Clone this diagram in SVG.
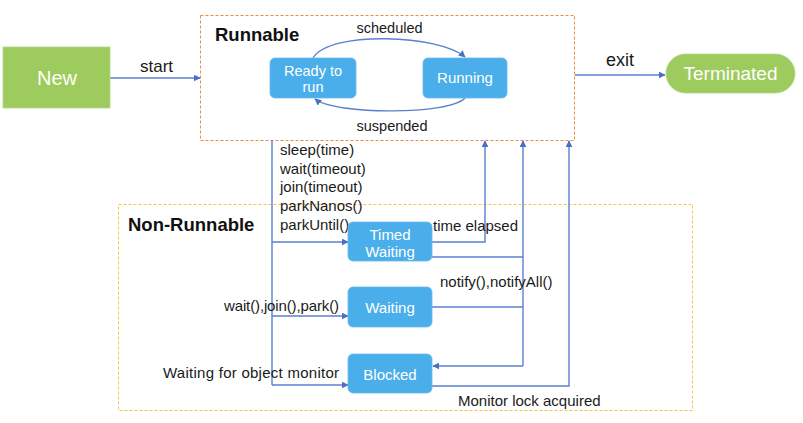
<svg xmlns="http://www.w3.org/2000/svg" width="803" height="423" viewBox="0 0 803 423">
<defs>
<style>
text{font-family:"Liberation Sans",Arial,sans-serif;fill:#1a1a1a;font-size:15px}
.w{fill:#ffffff}
.b{font-weight:bold;font-size:18.5px;fill:#111}
.st{fill:#4aaeea;stroke:#6ab9ee;stroke-width:0.8}
.ln{fill:none;stroke:#5b7fcf;stroke-width:1.4}
.grp{fill:none;stroke-width:1;stroke-dasharray:3,2}
</style>
<marker id="ah" viewBox="0 0 10 10" refX="9" refY="5" markerWidth="7" markerHeight="7" markerUnits="userSpaceOnUse" orient="auto">
<path d="M0,0 L10,5 L0,10 z" fill="#4a6fc4"/>
</marker>
</defs>
<rect width="803" height="423" fill="#ffffff"/>
<g id="runnable-group">
<rect class="grp" x="200.5" y="15.5" width="374" height="125" stroke="#f08b3c"/>
<text class="b" x="215" y="41">Runnable</text>
</g>
<g id="nonrunnable-group">
<rect class="grp" x="118.5" y="204.5" width="574" height="206" stroke="#f6c445"/>
<text class="b" x="128" y="231">Non-Runnable</text>
</g>
<g id="connectors">
<path class="ln" d="M110,78 L200,78" marker-end="url(#ah)"/>
<text x="140" y="72" style="font-size:17px">start</text>
<path class="ln" d="M575,75 L665,75" marker-end="url(#ah)"/>
<text x="606" y="66" style="font-size:18px">exit</text>
<path class="ln" d="M313,58 C330,30 440,35 465,57" marker-end="url(#ah)"/>
<text x="389.5" y="33" text-anchor="middle" style="font-size:14.5px">scheduled</text>
<path class="ln" d="M465,98 C450,115 335,115 315,99" marker-end="url(#ah)"/>
<text x="392" y="131" text-anchor="middle" style="font-size:14.5px">suspended</text>
<path class="ln" d="M272,140 L272,385"/>
<path class="ln" d="M272,242 L348,242" marker-end="url(#ah)"/>
<path class="ln" d="M272,316 L348,316" marker-end="url(#ah)"/>
<path class="ln" d="M272,385 L348,385" marker-end="url(#ah)"/>
<text x="280" y="155">sleep(time)</text>
<text x="280" y="173.5">wait(timeout)</text>
<text x="280" y="192">join(timeout)</text>
<text x="280" y="210.5">parkNanos()</text>
<text x="280" y="230">parkUntil()</text>
<text x="224" y="311" textLength="115">wait(),join(),park()</text>
<text x="163" y="378" textLength="176">Waiting for object monitor</text>
<path class="ln" d="M432,242 L485,242 L485,141" marker-end="url(#ah)"/>
<text x="433" y="231">time elapsed</text>
<path class="ln" d="M432,257 L523,257"/>
<path class="ln" d="M432,307 L523,307"/>
<path class="ln" d="M523,366 L523,141" marker-end="url(#ah)"/>
<path class="ln" d="M523,366 L433,366" marker-end="url(#ah)"/>
<text x="440" y="287">notify(),notifyAll()</text>
<path class="ln" d="M432,386 L569,386 L569,141" marker-end="url(#ah)"/>
<text x="458" y="406">Monitor lock acquired</text>
</g>
<g id="new">
<rect x="3" y="47" width="107" height="61" fill="#9dcb5d" stroke="#b2d884" stroke-width="0.8"/>
<text class="w" x="57" y="85" text-anchor="middle" style="font-size:20px">New</text>
</g>
<g id="ready">
<rect class="st" x="270" y="58" width="86" height="40" rx="5"/>
<text class="w" x="313" y="75.5" text-anchor="middle" style="font-size:14.5px">Ready to</text>
<text class="w" x="313" y="92" text-anchor="middle" style="font-size:14.5px">run</text>
</g>
<g id="running">
<rect class="st" x="423" y="58" width="84" height="40" rx="5"/>
<text class="w" x="465" y="83" text-anchor="middle">Running</text>
</g>
<g id="terminated">
<rect x="666" y="54" width="129" height="39" rx="19.5" fill="#9dcb5d" stroke="#b2d884" stroke-width="0.8"/>
<text class="w" x="730.5" y="80" text-anchor="middle" style="font-size:19px">Terminated</text>
</g>
<g id="timed-waiting">
<rect class="st" x="348" y="222" width="84" height="39" rx="5"/>
<text class="w" x="390" y="240" text-anchor="middle">Timed</text>
<text class="w" x="390" y="257" text-anchor="middle">Waiting</text>
</g>
<g id="waiting">
<rect class="st" x="348" y="287" width="84" height="40" rx="5"/>
<text class="w" x="390" y="313" text-anchor="middle">Waiting</text>
</g>
<g id="blocked">
<rect class="st" x="348" y="354" width="84" height="39" rx="5"/>
<text class="w" x="390" y="380" text-anchor="middle">Blocked</text>
</g>
</svg>
